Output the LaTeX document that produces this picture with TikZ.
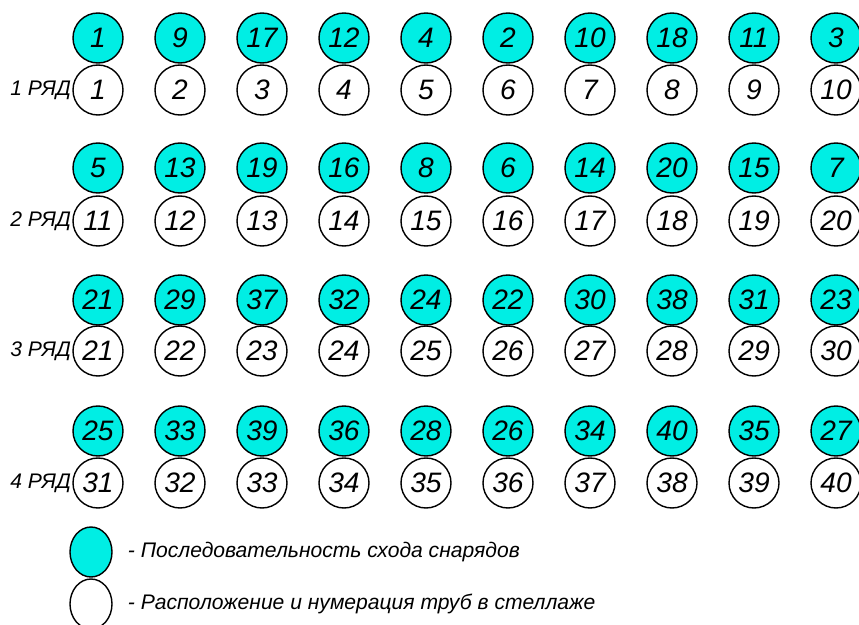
\documentclass[tikz,border=0pt]{standalone}
\usepackage{fontspec}
\setmainfont{Liberation Sans}
\usetikzlibrary{positioning,shapes.geometric}
\definecolor{snar}{RGB}{0,238,228}
\tikzset{
  seqc/.style={circle,draw,line width=1.2pt,fill=snar,minimum size=1.5cm,inner sep=0pt,font=\itshape\fontsize{24}{24}\selectfont},
  pipec/.style={seqc,fill=white},
  rowlbl/.style={inner sep=0pt,font=\itshape\fontsize{18}{18}\selectfont},
  legc/.style={ellipse,draw,line width=1.2pt,minimum width=1.26cm,minimum height=1.5cm,inner sep=0pt},
  legt/.style={inner sep=0pt,font=\itshape\fontsize{18}{18}\selectfont}
}
\begin{document}
\begin{tikzpicture}[x=0.03cm,y=-0.03cm]
\useasboundingbox (0,0) rectangle (859,625);
\foreach \rw/\yc/\yw/\seq in {1/38/90/{1,9,17,12,4,2,10,18,11,3},
  2/168/221/{5,13,19,16,8,6,14,20,15,7},
  3/300/351/{21,29,37,32,24,22,30,38,31,23},
  4/431/483/{25,33,39,36,28,26,34,40,35,27}}{
  \foreach \s [count=\c] in \seq {
    \pgfmathtruncatemacro{\n}{(\rw-1)*10+\c}
    \node[seqc] (s\rw-\c) at ({16+82*\c},\yc) {\s};
    \node[pipec] (t\rw-\c) at ({16+82*\c},\yw) {\n};
  }
  \node[rowlbl,left=1pt of t\rw-1] (row\rw) {\rw\ РЯД};
}
\node[legc,fill=snar] (legs) at (91,552) {};
\node[legc] (legp) at (91,604) {};
\node[legt,right=0.45cm of legs] (txts) {- Последовательность схода снарядов};
\node[legt,right=0.45cm of legp] (txtp) {- Расположение и нумерация труб в стеллаже};
\end{tikzpicture}
\end{document}
